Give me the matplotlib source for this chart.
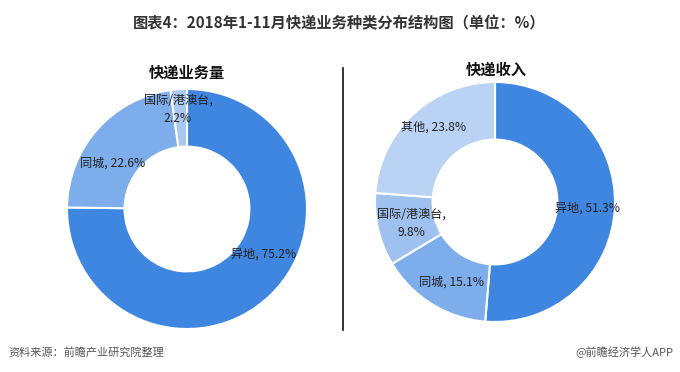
import matplotlib
matplotlib.use('Agg')
import matplotlib.pyplot as plt

plt.rcParams['font.family'] = ['Noto Sans CJK SC', 'DejaVu Sans']

# data
vol_labels = ['异地', '同城', '国际/港澳台']
vol_values = [75.2, 22.6, 2.2]
rev_labels = ['异地', '同城', '国际/港澳台', '其他']
rev_values = [51.3, 15.1, 9.8, 23.8]

vol_colors = ['#3f86e0', '#7eadeb', '#a9c8f1']
rev_colors = ['#3f86e0', '#7eadeb', '#9fc1ef', '#bad3f5']

W, H = 680, 372
fig = plt.figure(figsize=(W / 100, H / 100), dpi=100)
fig.patch.set_facecolor('white')


def px(x, y):
    return x / W, 1 - y / H


def donut(cx, cy, r, values, colors):
    ax = fig.add_axes([(cx - r) / W, 1 - (cy + r) / H, 2 * r / W, 2 * r / H])
    ax.pie(values, colors=colors, startangle=90, counterclock=False,
           radius=1, wedgeprops=dict(width=0.48, edgecolor='white', linewidth=1.5))
    ax.set_xlim(-1, 1)
    ax.set_ylim(-1, 1)
    ax.set_aspect('equal')
    ax.axis('off')
    return ax


ax1 = donut(187, 209, 120, vol_values, vol_colors)
ax2 = donut(495, 202, 120, rev_values, rev_colors)

lab_kw = dict(fontsize=8.7, color='#222222', ha='center', va='center')

# label spots (pie coords)
vol_pos = [(0.64, -0.38), (-0.62, 0.38), (-0.075, 0.83)]
for lab, v, (x, y) in zip(vol_labels, vol_values, vol_pos):
    if lab == '国际/港澳台':
        txt = '%s,\n%.1f%%' % (lab, v)
    else:
        txt = '%s, %.1f%%' % (lab, v)
    ax1.text(x, y, txt, linespacing=1.5, **lab_kw)

rev_pos = [(0.77, -0.05), (-0.36, -0.67), (-0.70, -0.18), (-0.51, 0.62)]
for lab, v, (x, y) in zip(rev_labels, rev_values, rev_pos):
    if lab == '国际/港澳台':
        txt = '%s,\n%.1f%%' % (lab, v)
    else:
        txt = '%s, %.1f%%' % (lab, v)
    ax2.text(x, y, txt, linespacing=1.5, **lab_kw)

# titles
fig.text(*px(339, 23), '图表4：2018年1-11月快递业务种类分布结构图（单位：%）',
         fontsize=11, fontweight='bold', color='#333333', ha='center', va='center')
fig.text(*px(187, 73), '快递业务量', fontsize=11, fontweight='bold',
         color='#111111', ha='center', va='center')
fig.text(*px(496, 70), '快递收入', fontsize=11, fontweight='bold',
         color='#111111', ha='center', va='center')

# divider
x0, y0 = px(343, 68)
_, y1 = px(343, 330)
fig.add_artist(plt.Line2D([x0, x0], [y0, y1], color='#111111', linewidth=1.2))

# footer
fig.text(*px(8, 352), '资料来源：前瞻产业研究院整理', fontsize=8, style='italic',
         color='#555555', ha='left', va='center')
fig.text(*px(673, 352), '@前瞻经济学人APP', fontsize=8, color='#555555',
         ha='right', va='center')

fig.savefig('out.png', dpi=100, facecolor='white')
